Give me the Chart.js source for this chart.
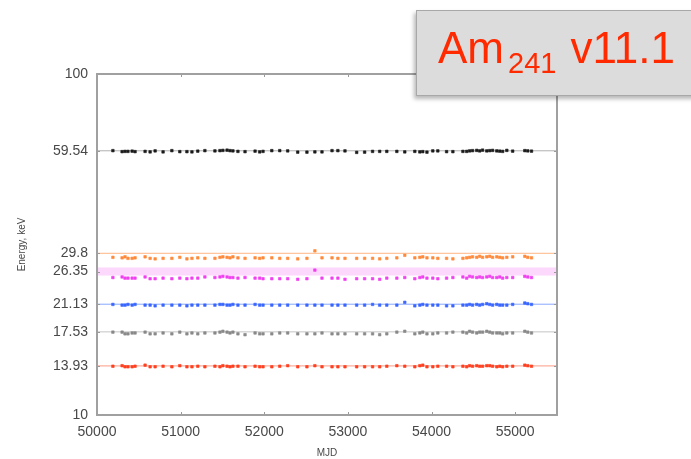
<!DOCTYPE html>
<html>
<head>
<meta charset="utf-8">
<script src="https://cdn.jsdelivr.net/npm/chart.js@4.4.1/dist/chart.umd.min.js"></script>
<style>
  html, body { margin: 0; padding: 0; background: #fff; overflow: hidden; }
  #wrap { position: relative; width: 691px; height: 459px; }
  #c { position: absolute; left: 0; top: 0; }
  #tbox {
    position: absolute; left: 416px; top: 10px; width: 290px; height: 84px;
    background: #dcdcdc; border: 1px solid #a8a8a8;
    box-shadow: -2px 3px 4px rgba(0,0,0,0.28);
  }
  #ttext {
    position: absolute; left: 21px; top: 15px; white-space: nowrap;
    font-family: "Liberation Sans", Arial, sans-serif; font-size: 44px; line-height: 44px;
    color: #ff2a00;
  }
  #ttext sub { font-size: 29px; vertical-align: -10px; line-height: 0; margin-left: 4px; margin-right: 2px; }
</style>
</head>
<body>
<div id="wrap">
  <canvas id="c" width="691" height="459"></canvas>
  <div id="tbox"><div id="ttext">Am<sub>241</sub> v11.1</div></div>
</div>
<script>
// ---- data ----
const mjd = [50190,50300,50335,50370,50420,50455,50575,50635,50695,50790,
             50895,50990,51075,51135,51205,51290,51410,51470,51505,51555,
             51590,51625,51685,51770,51890,51945,51985,52090,52185,52280,
             52400,52510,52605,52690,52810,52880,52965,53105,53200,53295,
             53380,53465,53585,53680,53800,53860,53895,53945,54015,54075,
             54180,54255,54375,54420,54455,54490,54540,54575,54610,54660,
             54695,54730,54780,54815,54850,54900,54970,55115,55150,55195];

const line5954 = [59.6,59.2,59.3,59.3,59.4,59.2,59.3,59.1,59.5,59.1,
                  59.6,59.2,59.2,59.1,59.4,59.6,59.5,59.6,59.7,59.8,
                  59.6,59.5,59.3,59.2,59.4,59.1,59.3,59.6,59.6,59.5,
                  59.0,59.0,59.1,59.1,59.6,59.6,59.5,58.9,59.0,59.3,
                  59.3,59.3,59.3,59.1,59.3,59.1,59.2,59.0,59.5,59.5,
                  59.2,59.2,59.3,59.3,59.5,59.6,59.7,59.5,59.8,59.5,
                  59.6,59.7,59.5,59.4,59.3,59.7,59.4,59.6,59.5,59.4];

const line298 = [29.0,28.9,29.1,28.8,28.8,28.9,29.1,28.8,28.7,28.8,
                 28.8,29.0,28.7,28.8,28.9,28.8,28.8,29.0,29.1,29.0,
                 28.9,29.1,28.9,28.8,28.9,28.8,28.9,28.9,28.8,28.8,
                 28.7,28.8,30.3,28.9,28.9,28.8,28.8,28.8,28.8,28.8,
                 28.7,28.8,28.9,29.4,28.9,29.0,29.1,28.9,28.9,28.8,
                 28.8,28.7,28.8,28.9,29.0,29.1,29.0,29.2,29.0,29.1,
                 29.2,29.0,29.1,29.0,28.9,29.0,29.1,29.2,29.0,28.9];

const line2635 = [25.3,25.4,25.2,25.2,25.2,25.2,25.4,25.1,25.1,25.2,
                  25.1,25.2,25.1,25.2,25.2,25.4,25.3,25.4,25.5,25.4,
                  25.3,25.3,25.2,25.3,25.2,25.2,25.1,25.1,25.1,25.1,
                  25.0,25.1,26.6,25.2,25.2,25.2,25.0,25.1,25.1,25.1,
                  25.0,25.2,25.2,25.3,25.1,25.3,25.4,25.2,25.2,25.1,
                  25.2,25.3,25.4,25.2,25.5,25.4,25.3,25.4,25.3,25.4,
                  25.5,25.3,25.3,25.4,25.2,25.3,25.3,25.5,25.4,25.3];

const line2113 = [21.1,21.0,21.0,21.1,21.0,21.1,21.0,21.0,20.9,21.0,
                  21.0,21.0,20.9,21.0,21.0,21.0,21.0,21.1,21.1,21.0,
                  21.0,21.1,21.0,21.0,21.1,21.0,21.0,21.0,21.0,21.0,
                  21.0,21.0,21.0,21.0,21.0,21.0,21.0,21.0,21.0,21.1,
                  21.0,21.0,21.0,21.4,20.9,21.0,21.1,21.0,21.0,21.0,
                  20.9,20.9,21.0,21.0,21.1,21.0,21.1,21.0,21.1,21.2,
                  21.1,21.0,21.1,21.0,21.0,21.0,21.1,21.3,21.2,21.1];

const line1753 = [17.5,17.5,17.3,17.3,17.4,17.4,17.5,17.3,17.3,17.4,
                  17.3,17.5,17.3,17.4,17.3,17.4,17.4,17.5,17.6,17.5,
                  17.4,17.5,17.3,17.2,17.4,17.3,17.3,17.3,17.4,17.4,
                  17.3,17.3,17.3,17.4,17.3,17.3,17.3,17.3,17.3,17.3,
                  17.2,17.3,17.5,17.6,17.3,17.4,17.5,17.3,17.3,17.4,
                  17.4,17.5,17.5,17.4,17.6,17.5,17.4,17.5,17.5,17.6,
                  17.5,17.4,17.4,17.4,17.3,17.4,17.4,17.6,17.5,17.4];

const line1393 = [13.9,13.95,13.85,13.85,13.85,13.9,14.0,13.85,13.85,13.9,
                  13.85,13.95,13.85,13.85,13.9,13.85,13.9,13.85,13.95,13.9,
                  13.85,13.9,13.9,13.85,13.9,13.85,13.85,13.85,13.9,13.95,
                  13.85,13.85,13.95,13.85,13.85,13.85,13.85,13.85,13.85,13.85,
                  13.85,13.9,13.95,13.9,13.85,13.95,14.0,13.85,13.85,13.9,
                  13.9,13.85,13.9,13.85,13.95,13.9,13.95,13.9,13.9,13.95,
                  13.95,13.9,13.85,13.9,13.85,13.9,13.9,14.0,13.95,13.9];

const energies = [59.54, 29.8, 26.35, 21.13, 17.53, 13.93];
const yTicks = [10, 13.93, 17.53, 21.13, 26.35, 29.8, 59.54, 100];
const xTicks = [50000, 51000, 52000, 53000, 54000, 55000];
const xMin = 50000, xMax = 55500;

// ---- styles ----
const series = [
  { data: line5954, color: '#1a1a1a', ref: '#b0b0b0', refW: 1 },
  { data: line298,  color: '#ff8a3a', ref: '#ffb583', refW: 1 },
  { data: line2635, color: '#f040f0', ref: '#fcd8fc', refW: 8 },
  { data: line2113, color: '#3a66ff', ref: '#8aa8ff', refW: 1 },
  { data: line1753, color: '#8a8a8a', ref: '#c4c4c4', refW: 1 },
  { data: line1393, color: '#ff4020', ref: '#ff9a84', refW: 1 }
];

const datasets = [];
energies.forEach((e, i) => {
  datasets.push({
    data: [{x: xMin, y: e}, {x: xMax, y: e}],
    showLine: true, borderColor: series[i].ref, borderWidth: series[i].refW,
    pointRadius: 0, order: 10
  });
});
series.forEach(s => {
  datasets.push({
    data: mjd.map((x, k) => ({x: x, y: s.data[k]})),
    showLine: false, pointStyle: 'rect', pointRadius: 1.8,
    backgroundColor: s.color, borderColor: s.color, borderWidth: 0.6, order: 1
  });
});

const frame = {
  id: 'frame',
  afterDatasetsDraw(chart) {
    const {ctx, chartArea: a, scales} = chart;
    ctx.save();
    ctx.strokeStyle = '#9a9a9a';
    ctx.lineWidth = 1;
    ctx.beginPath();
    xTicks.forEach(v => {
      const px = Math.round(scales.x.getPixelForValue(v)) + 0.5;
      ctx.moveTo(px, a.bottom); ctx.lineTo(px, a.bottom - 3);
      ctx.moveTo(px, a.top); ctx.lineTo(px, a.top + 3);
    });
    yTicks.forEach(v => {
      const py = Math.round(scales.y.getPixelForValue(v)) + 0.5;
      ctx.moveTo(a.left, py); ctx.lineTo(a.left + 3, py);
      ctx.moveTo(a.right, py); ctx.lineTo(a.right - 3, py);
    });
    ctx.stroke();
    ctx.lineWidth = 2;
    ctx.strokeStyle = '#a0a0a0';
    ctx.strokeRect(a.left, a.top, a.right - a.left, a.bottom - a.top);
    ctx.restore();
  }
};

const tickFont = { family: 'Liberation Sans, Arial, sans-serif', size: 14 };
const titleFont = { family: 'Liberation Sans, Arial, sans-serif', size: 10 };

new Chart(document.getElementById('c'), {
  type: 'scatter',
  data: { datasets },
  options: {
    responsive: false, animation: false, devicePixelRatio: 1,
    layout: { padding: { left: 0, right: 134, top: 74, bottom: 0 } },
    plugins: { legend: { display: false }, tooltip: { enabled: false } },
    scales: {
      x: {
        type: 'linear', min: xMin, max: xMax,
        grid: { display: false, drawTicks: false }, border: { display: false },
        afterBuildTicks: sc => { sc.ticks = xTicks.map(v => ({value: v})); },
        afterFit: sc => { sc.height = 44; },
        ticks: { autoSkip: false, maxRotation: 0, padding: 9, color: '#484848',
                 font: tickFont, callback: v => String(v) },
        title: { display: true, text: 'MJD', color: '#484848', padding: { top: 0, bottom: 0 },
                 font: titleFont }
      },
      y: {
        type: 'logarithmic', min: 10, max: 100,
        grid: { display: false, drawTicks: false }, border: { display: false },
        afterBuildTicks: sc => { sc.ticks = yTicks.map(v => ({value: v})); },
        afterFit: sc => { sc.width = 97; },
        ticks: { autoSkip: false, padding: 9, color: '#484848',
                 font: tickFont, callback: v => String(v) },
        title: { display: true, text: 'Energy, keV', color: '#484848', padding: { top: 16, bottom: 0 },
                 font: titleFont }
      }
    }
  },
  plugins: [frame]
});
</script>
</body>
</html>
